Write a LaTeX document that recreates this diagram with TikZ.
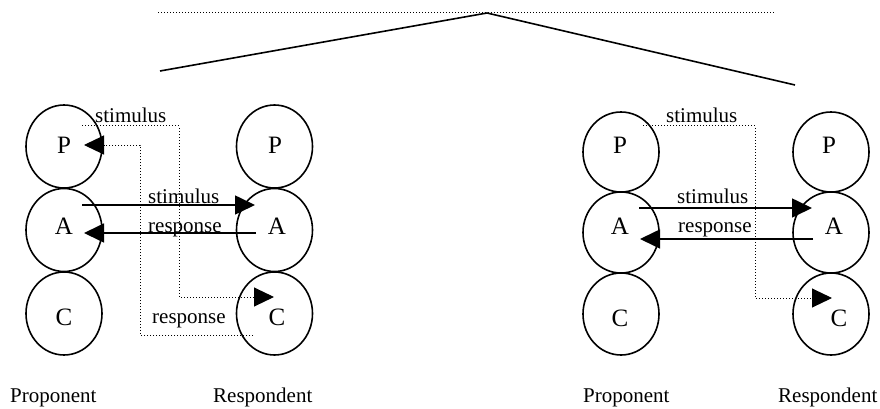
\documentclass[tikz,border=0pt]{standalone}
\usepackage{fontspec}
\setmainfont{Liberation Serif}
\usetikzlibrary{arrows.meta,shapes.geometric}
\begin{document}
\begin{tikzpicture}[x=1pt,y=-1pt,
  ell/.style={draw,ellipse,line width=1.6pt,minimum width=76pt,minimum height=#1,inner sep=0pt},
  ell/.default=83pt,
  lbl/.style={anchor=base,inner sep=0pt,font=\fontsize{25}{30}\selectfont},
  wlbl/.style={anchor=base west,inner sep=0pt,font=\fontsize{21}{25}\selectfont},
  solidarr/.style={line width=1.6pt,-{Triangle[length=20pt,width=19pt]}},
  dotarr/.style={line width=1pt,dash pattern=on 1pt off 2pt,-{Triangle[length=20pt,width=19pt]}},
  dotline/.style={line width=1pt,dash pattern=on 1pt off 2pt},
  topline/.style={line width=1.6pt}]
\useasboundingbox (0,0) rectangle (880,409);
% top
\coordinate (dl) at (158,13);
\coordinate (dr) at (775,13);
\coordinate (apex) at (487,13);
\coordinate (tl) at (160,71);
\coordinate (tr) at (795,85);
\draw[dotline] (dl) -- (dr);
\draw[topline] (tl) -- (apex) -- (tr);
% left group circles
\node[ell] (LPP) at (64,146.5) {};
\node[ell] (LPA) at (64,230) {};
\node[ell] (LPC) at (64,313.5) {};
\node[ell] (LRP) at (274.5,146.5) {};
\node[ell] (LRA) at (274.5,230) {};
\node[ell] (LRC) at (274.5,313.5) {};
\node[lbl] (tLPP) at (64,153) {P};
\node[lbl] (tLPA) at (64,234) {A};
\node[lbl] (tLPC) at (64,325) {C};
\node[lbl] (tLRP) at (275,153) {P};
\node[lbl] (tLRA) at (277,234) {A};
\node[lbl] (tLRC) at (277,325) {C};
% right group circles
\node[ell=80pt] (RPP) at (621,152) {};
\node[ell=81pt] (RPA) at (621,232.5) {};
\node[ell=82pt] (RPC) at (621,314) {};
\node[ell=80pt] (RRP) at (831,152) {};
\node[ell=81pt] (RRA) at (831,232.5) {};
\node[ell=82pt] (RRC) at (831,314) {};
\node[lbl] (tRPP) at (620,153) {P};
\node[lbl] (tRPA) at (620,234) {A};
\node[lbl] (tRPC) at (620,326) {C};
\node[lbl] (tRRP) at (829,153) {P};
\node[lbl] (tRRA) at (834,234) {A};
\node[lbl] (tRRC) at (839,326) {C};
% left group connectors
\coordinate (ls1) at (82,126);
\coordinate (ls2) at (179,126);
\coordinate (ls3) at (179,297);
\coordinate (ls4) at (274,297);
\draw[dotarr] (ls1) -- (ls2) -- (ls3) -- (ls4);
\coordinate (lr1) at (253,335);
\coordinate (lr2) at (140,335);
\coordinate (lr3) at (140,145);
\coordinate (lr4) at (84,145);
\draw[dotarr] (lr1) -- (lr2) -- (lr3) -- (lr4);
\coordinate (lsa) at (82,205);
\coordinate (lsb) at (255,205);
\draw[solidarr] (lsa) -- (lsb);
\coordinate (lra) at (256,233);
\coordinate (lrb) at (84,233);
\draw[solidarr] (lra) -- (lrb);
\node[wlbl] (lstim1) at (95,123) {stimulus};
\node[wlbl] (lstim2) at (148,203) {stimulus};
\node[wlbl] (lresp1) at (148,232) {response};
\node[wlbl] (lresp2) at (152,323) {response};
% right group connectors
\coordinate (rs1) at (643,126);
\coordinate (rs2) at (755,126);
\coordinate (rs3) at (755,298);
\coordinate (rs4) at (832,298);
\draw[dotarr] (rs1) -- (rs2) -- (rs3) -- (rs4);
\coordinate (rsa) at (639,208);
\coordinate (rsb) at (812,208);
\draw[solidarr] (rsa) -- (rsb);
\coordinate (rra) at (813,239);
\coordinate (rrb) at (640,239);
\draw[solidarr] (rra) -- (rrb);
\node[wlbl] (rstim1) at (666,123) {stimulus};
\node[wlbl] (rstim2) at (677,203) {stimulus};
\node[wlbl] (rresp1) at (678,232) {response};
% bottom labels
\node[wlbl] (prop1) at (10,402) {Proponent};
\node[wlbl] (resp1) at (213,402) {Respondent};
\node[wlbl] (prop2) at (583,402) {Proponent};
\node[wlbl] (resp2) at (778,402) {Respondent};
\end{tikzpicture}
\end{document}
